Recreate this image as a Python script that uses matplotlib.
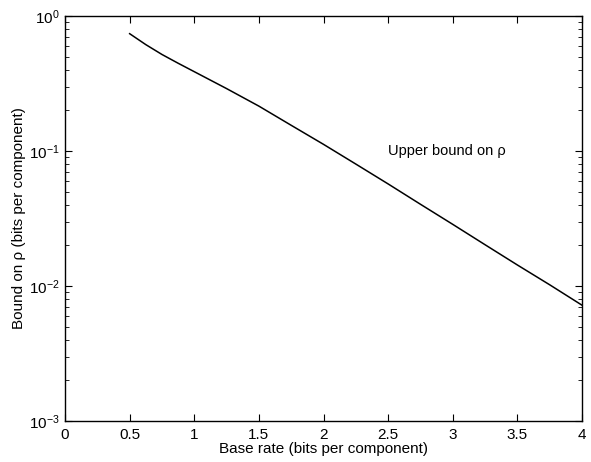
import matplotlib
matplotlib.use('Agg')
from matplotlib import pyplot as plt
from matplotlib.ticker import LogLocator, NullFormatter

plt.rcParams['font.family'] = ['Liberation Sans', 'DejaVu Sans']
plt.rcParams['mathtext.fontset'] = 'custom'
plt.rcParams['mathtext.rm'] = 'Liberation Sans'
plt.rcParams['mathtext.it'] = 'Liberation Sans:italic'

# values
base_rate = [0.5, 0.625, 0.75, 0.875, 1.0, 1.25, 1.5, 1.75, 2.0, 2.25, 2.5, 2.75,
             3.0, 3.25, 3.5, 3.75, 4.0]
bound = [0.74, 0.614, 0.519, 0.447, 0.387, 0.29, 0.215, 0.155, 0.112, 0.080, 0.057,
         0.0403, 0.0286, 0.0202, 0.0143, 0.0102, 0.0072]

xticks = [0, 0.5, 1, 1.5, 2, 2.5, 3, 3.5, 4]
xticklabels = ['0', '0.5', '1', '1.5', '2', '2.5', '3', '3.5', '4']

fig = plt.figure(figsize=(5.91, 4.62), dpi=100)
ax = fig.add_axes([0.11, 0.0887, 0.875, 0.8766])

ax.semilogy(base_rate, bound, color='black', linewidth=1.1)
ax.text(2.5, 0.1, 'Upper bound on \u03c1', fontsize=10.5, ha='left', va='center')

ax.set_xlim(0, 4)
ax.set_ylim(1e-3, 1)
ax.set_xticks(xticks)
ax.set_xticklabels(xticklabels)
ax.yaxis.set_major_locator(LogLocator(base=10, numticks=10))
ax.yaxis.set_minor_locator(LogLocator(base=10, subs=range(2, 10), numticks=10))
ax.yaxis.set_minor_formatter(NullFormatter())

ax.tick_params(which='both', direction='in', top=True, right=True, labelsize=11)
ax.tick_params(which='major', length=5, width=0.8)
ax.tick_params(which='minor', length=3, width=0.6)
ax.tick_params(axis='x', pad=5)
ax.tick_params(axis='y', pad=4)
for s in ax.spines.values():
    s.set_linewidth(1.0)

ax.set_xlabel('Base rate (bits per component)', fontsize=11, labelpad=0)
ax.set_ylabel('Bound on \u03c1 (bits per component)', fontsize=11, labelpad=2)

fig.savefig('out.png', dpi=100)
